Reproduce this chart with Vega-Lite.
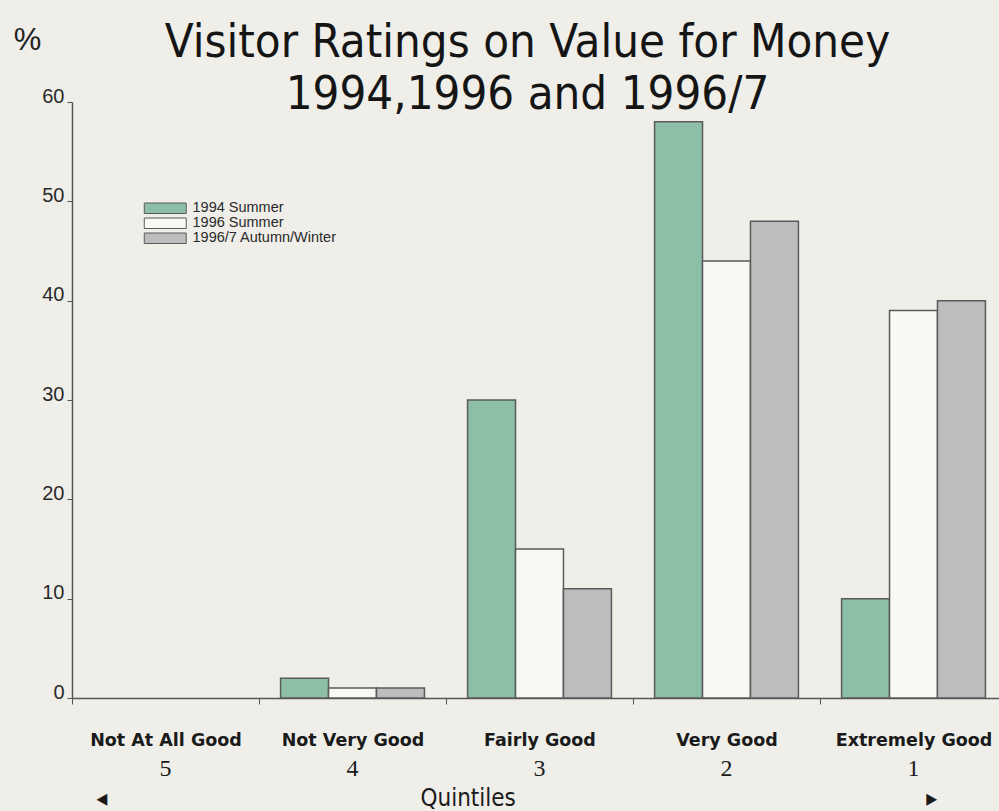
{
  "$schema": "https://vega.github.io/schema/vega-lite/v6.json",
  "width": 935,
  "height": 596,
  "autosize": "none",
  "padding": {"left": 72, "top": 102, "right": 0, "bottom": 113},
  "background": "#efeee9",
  "title": {
    "text": ["Visitor Ratings on Value for Money", "1994,1996 and 1996/7"],
    "anchor": "middle",
    "font": "DejaVu Sans Condensed",
    "fontSize": 47,
    "fontWeight": "normal",
    "lineHeight": 52,
    "color": "#151515",
    "offset": -95,
    "dx": -12
  },
  "data": {
    "values": [
      {"rating": "Not At All Good", "quintile": "5", "series": "1994 Summer", "value": 0},
      {"rating": "Not At All Good", "quintile": "5", "series": "1996 Summer", "value": 0},
      {"rating": "Not At All Good", "quintile": "5", "series": "1996/7 Autumn/Winter", "value": 0},
      {"rating": "Not Very Good", "quintile": "4", "series": "1994 Summer", "value": 2},
      {"rating": "Not Very Good", "quintile": "4", "series": "1996 Summer", "value": 1},
      {"rating": "Not Very Good", "quintile": "4", "series": "1996/7 Autumn/Winter", "value": 1},
      {"rating": "Fairly Good", "quintile": "3", "series": "1994 Summer", "value": 30},
      {"rating": "Fairly Good", "quintile": "3", "series": "1996 Summer", "value": 15},
      {"rating": "Fairly Good", "quintile": "3", "series": "1996/7 Autumn/Winter", "value": 11},
      {"rating": "Very Good", "quintile": "2", "series": "1994 Summer", "value": 58},
      {"rating": "Very Good", "quintile": "2", "series": "1996 Summer", "value": 44},
      {"rating": "Very Good", "quintile": "2", "series": "1996/7 Autumn/Winter", "value": 48},
      {"rating": "Extremely Good", "quintile": "1", "series": "1994 Summer", "value": 10},
      {"rating": "Extremely Good", "quintile": "1", "series": "1996 Summer", "value": 39},
      {"rating": "Extremely Good", "quintile": "1", "series": "1996/7 Autumn/Winter", "value": 40}
    ]
  },
  "layer": [
    {
      "mark": {"type": "bar", "stroke": "#5a5a5a", "strokeWidth": 1.5},
      "encoding": {
        "x": {
          "field": "rating",
          "type": "nominal",
          "sort": ["Not At All Good", "Not Very Good", "Fairly Good", "Very Good", "Extremely Good"],
          "scale": {"paddingInner": 0, "paddingOuter": 0},
          "axis": {
            "title": null,
            "labelAngle": 0,
            "labelFont": "DejaVu Sans",
            "labelFontWeight": "bold",
            "labelFontSize": 17.5,
            "labelColor": "#1a1a1a",
            "labelPadding": 27,
            "tickBand": "extent",
            "tickSize": 6,
            "tickColor": "#555",
            "domainColor": "#555",
            "domainWidth": 1.5
          }
        },
        "xOffset": {
          "field": "series",
          "type": "nominal",
          "scale": {"paddingInner": 0, "paddingOuter": 0.45}
        },
        "y": {
          "field": "value",
          "type": "quantitative",
          "scale": {"domain": [0, 60]},
          "axis": {
            "title": "%",
            "titleAngle": 0,
            "titleX": -45,
            "titleY": -62,
            "titleAlign": "center",
            "titleBaseline": "middle",
            "titleFont": "Liberation Sans",
            "titleFontSize": 31,
            "titleFontWeight": "normal",
            "titleColor": "#222",
            "values": [0, 10, 20, 30, 40, 50, 60],
            "grid": false,
            "labelFont": "Liberation Sans",
            "labelFontSize": 20,
            "labelColor": "#2a2a2a",
            "labelPadding": 3,
            "labelBaseline": "alphabetic",
            "tickSize": 5,
            "tickColor": "#555",
            "domainColor": "#555",
            "domainWidth": 1.5
          }
        },
        "strokeOpacity": {
          "condition": {"test": "datum.value === 0", "value": 0},
          "value": 1
        },
        "color": {
          "field": "series",
          "type": "nominal",
          "scale": {
            "domain": ["1994 Summer", "1996 Summer", "1996/7 Autumn/Winter"],
            "range": ["#8dbfa7", "#f8f8f5", "#bdbdbd"]
          },
          "legend": {
            "title": null,
            "orient": "none",
            "legendX": 86,
            "legendY": 99,
            "symbolType": "M -4 -1 L 4 -1 L 4 1 L -4 1 Z",
            "symbolSize": 110,
            "symbolStrokeColor": "#5a5a5a",
            "symbolStrokeWidth": 1,
            "symbolOpacity": 1,
            "labelFont": "Liberation Sans",
            "labelFontSize": 14.5,
            "labelColor": "#2a2a2a",
            "rowPadding": -1,
            "labelOffset": 20
          }
        }
      }
    },
    {
      "mark": {"type": "bar", "opacity": 0},
      "encoding": {
        "x": {
          "field": "quintile",
          "type": "nominal",
          "sort": ["5", "4", "3", "2", "1"],
          "scale": {"paddingInner": 0, "paddingOuter": 0},
          "axis": {
            "orient": "bottom",
            "labelAngle": 0,
            "domain": false,
            "ticks": false,
            "labelFont": "Liberation Serif",
            "labelFontSize": 24,
            "labelColor": "#1a1a1a",
            "labelPadding": 58,
            "title": "◂\u2003\u2003\u2003\u2003\u2003\u2003\u2003\u2003\u2003\u2003\u2003\u2003\u2003\u2003\u2002Quintiles\u2003\u2003\u2003\u2003\u2003\u2003\u2003\u2003\u2003\u2003\u2003\u2003\u2003\u2003\u2003\u2003\u2003\u2003\u2003▸",
            "titleFont": "DejaVu Sans Condensed",
            "titleFontSize": 24,
            "titleFontWeight": "normal",
            "titleColor": "#1a1a1a",
            "titleAnchor": "start",
            "titleAlign": "left",
            "titleX": 24,
            "titlePadding": 6
          }
        }
      }
    }
  ],
  "resolve": {"scale": {"x": "independent"}, "axis": {"x": "independent"}},
  "config": {"view": {"stroke": null}}
}
